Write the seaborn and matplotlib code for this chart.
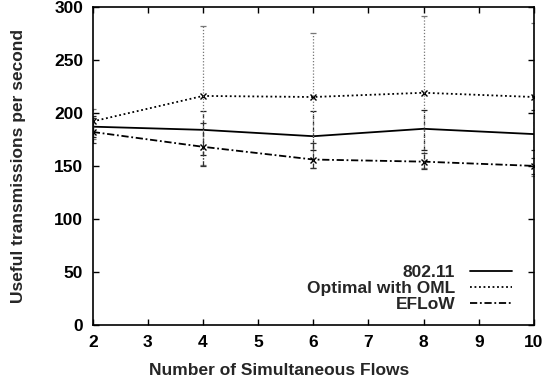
import numpy as np
import pandas as pd
import seaborn as sns
import matplotlib
matplotlib.use("Agg")
import matplotlib.pyplot as plt
from matplotlib.lines import Line2D

# Number of simultaneous flows
flows = [2, 4, 6, 8, 10]

# Mean useful transmissions per second
std_80211 = [187, 184, 178, 185, 180]
oml = [192, 216, 215, 219, 215]
eflow = [182, 168, 156, 154, 150]

# Error bar extents (low, high)
std_80211_low = [177, 160, 165, 165, 165]
std_80211_high = [197, 202, 202, 203, 203]
oml_low = [175, 151, 148, 148, 140]
oml_high = [204, 282, 275, 291, 285]
eflow_low = [172, 150, 148, 147, 142]
eflow_high = [195, 190, 172, 162, 157]

series_names = ["802.11", "Optimal with OML", "EFLoW"]

sns.set_theme(style="ticks")
plt.rcParams["font.family"] = ["Liberation Sans", "DejaVu Sans"]
plt.rcParams["font.weight"] = "bold"

FS = 12.5

fig = plt.figure(figsize=(5.59, 3.84), dpi=100)
ax = fig.add_axes([0.166, 0.154, 0.789, 0.828])

styles = {
    "802.11": dict(ls="-", marker=None),
    "Optimal with OML": dict(ls=(0, (1, 1.5)), marker="x"),
    "EFLoW": dict(ls=(0, (4, 1.5, 1, 1.5)), marker="x"),
}
means = {"802.11": std_80211, "Optimal with OML": oml, "EFLoW": eflow}
lows = {"802.11": std_80211_low, "Optimal with OML": oml_low, "EFLoW": eflow_low}
highs = {"802.11": std_80211_high, "Optimal with OML": oml_high, "EFLoW": eflow_high}
bar_colors = {"802.11": "#222222", "Optimal with OML": "#777777", "EFLoW": "#333333"}

for name in series_names:
    df = pd.DataFrame({"flows": flows, "value": means[name]})
    st = styles[name]
    sns.lineplot(data=df, x="flows", y="value", ax=ax, color="black",
                 linewidth=1.3, linestyle=st["ls"], legend=False)
    line = ax.lines[-1]
    if st["marker"]:
        line.set_marker(st["marker"])
        line.set_markersize(5)
        line.set_markeredgewidth(1.0)
        line.set_markeredgecolor("black")
    m = np.array(means[name])
    yerr = np.vstack([m - np.array(lows[name]), np.array(highs[name]) - m])
    eb = ax.errorbar(flows, m, yerr=yerr, fmt="none", ecolor=bar_colors[name],
                     elinewidth=0.9, capsize=2.5, capthick=0.9)
    for coll in eb[2]:
        coll.set_linestyle(st["ls"] if name != "802.11" else (0, (3, 2)))

ax.set_xlim(2, 10)
ax.set_ylim(0, 300)
ax.set_xticks(range(2, 11))
ax.set_yticks(range(0, 301, 50))
ax.tick_params(direction="in", length=4, width=1, top=True, right=True,
               labelsize=FS, pad=7, colors="black")
for lab in ax.get_xticklabels() + ax.get_yticklabels():
    lab.set_fontweight("bold")
for sp in ax.spines.values():
    sp.set_linewidth(1.2)
    sp.set_color("black")

ax.set_xlabel("Number of Simultaneous Flows", fontsize=FS, fontweight="bold")
ax.set_ylabel("Useful transmissions per second", fontsize=FS, fontweight="bold", labelpad=20)
# centre the x label on the whole canvas
ax.xaxis.set_label_coords(0.423, -0.12)

leg_handles = [Line2D([], [], color="black", lw=1.3, ls=styles[n]["ls"]) for n in series_names]
leg = ax.legend(leg_handles, series_names, loc="lower right", markerfirst=False,
                frameon=False, fontsize=FS, handlelength=2.4, handletextpad=0.85,
                labelspacing=0.05, borderpad=0, borderaxespad=0,
                bbox_to_anchor=(0.950, 0.041))
for t in leg.get_texts():
    t.set_fontweight("bold")

fig.savefig("out.png", dpi=100)
